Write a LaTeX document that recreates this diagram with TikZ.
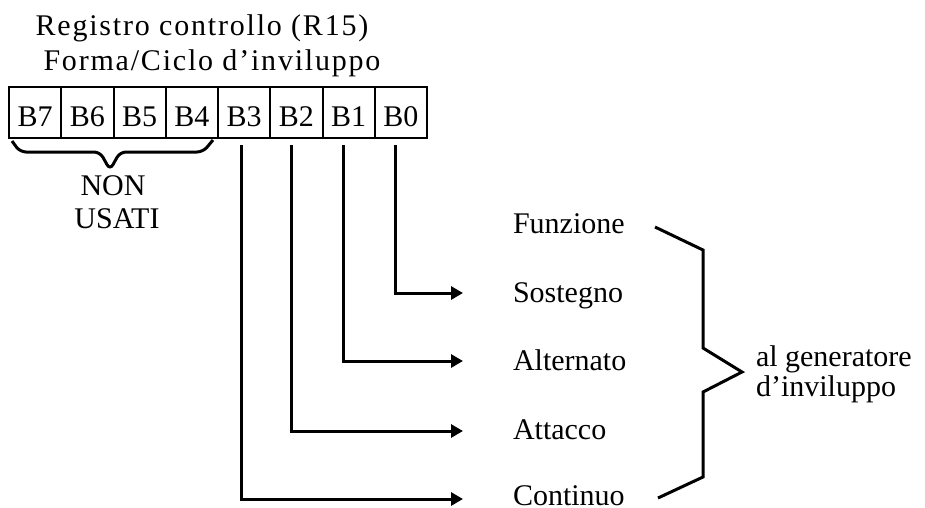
\documentclass[tikz,border=0pt]{standalone}
\usepackage{fontspec}
\setmainfont{Liberation Serif}
\usetikzlibrary{arrows.meta}
\begin{document}
\begin{tikzpicture}[x=1pt,y=-1pt,
  txt/.style={inner sep=0pt,outer sep=0pt,font=\fontsize{30}{34}\selectfont},
  title/.style={txt,anchor=base,font=\fontsize{30}{34}\selectfont\addfontfeatures{LetterSpace=6}},
  lab/.style={txt,anchor=base west},
  bitbox/.style={draw,line width=2pt,inner sep=0pt,outer sep=0pt,
    minimum width=52.25pt,minimum height=51pt,text height=27pt,text depth=0pt,
    font=\fontsize{30}{34}\selectfont},
  conn/.style={line width=3pt,-{Triangle[length=12pt,width=13pt]}},
  brk/.style={line width=3pt,line join=miter}]
\useasboundingbox (0,0) rectangle (925,507);
% title
\node[title] (t1) at (202,35) {Registro controllo (R15)};
\node[title] (t2) at (212,70) {Forma/Ciclo d’inviluppo};
% register boxes
\foreach \n [count=\i from 0] in {7,6,5,4,3,2,1,0}{
  \node[bitbox] (b\n) at (9+26.125+52.25*\i,112.5) {B\n};
}
% unused brace
\draw[brk,rounded corners=6pt] (12,141) -- (20,152) -- (100,152) -- (110,170) -- (120,152) -- (203,152) -- (213,140);
\node[txt,anchor=base] (non) at (113,195) {NON};
\node[txt,anchor=base] (usati) at (117,228) {USATI};
% labels
\node[lab] (funz) at (513,233) {Funzione};
\node[lab] (sost) at (513,302) {Sostegno};
\node[lab] (alt) at (513,370) {Alternato};
\node[lab] (att) at (513,439) {Attacco};
\node[lab] (cont) at (513,505) {Continuo};
% arrow targets
\coordinate (e0) at (463,293);
\coordinate (e1) at (463,361);
\coordinate (e2) at (463,431);
\coordinate (e3) at (463,499);
\draw[conn] ([xshift=-5pt,yshift=-7pt]b0.south) |- (e0);
\draw[conn] ([xshift=-5pt,yshift=-7pt]b1.south) |- (e1);
\draw[conn] ([xshift=-5pt,yshift=-7pt]b2.south) |- (e2);
\draw[conn] ([xshift=-3pt,yshift=-7pt]b3.south) |- (e3);
% right bracket
\draw[brk] (655,227) -- (703,250) -- (703,348) -- (742,372) -- (703,392) -- (703,477) -- (658,498);
\node[lab] (gen1) at (756,366) {al generatore};
\node[lab] (gen2) at (756,396) {d’inviluppo};
\end{tikzpicture}
\end{document}
